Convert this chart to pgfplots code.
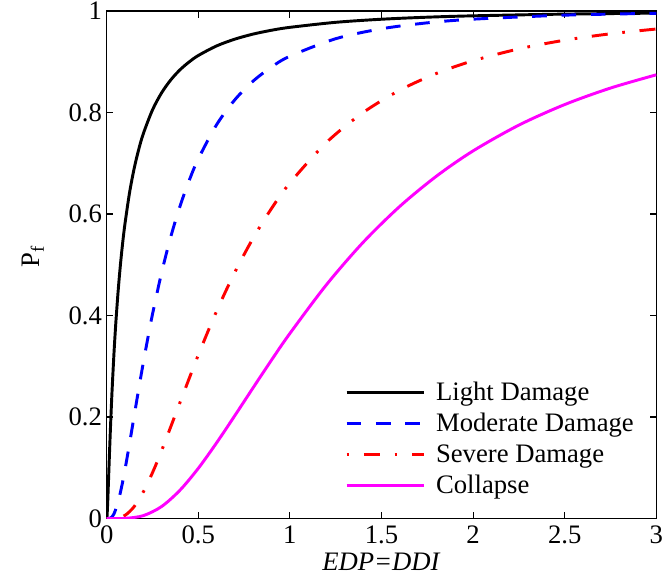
\documentclass[border=0pt]{standalone}
\usepackage{fontspec}
\setmainfont{Liberation Serif}
\usepackage{pgfplots}
\pgfplotsset{compat=1.18}

\definecolor{matmagenta}{rgb}{1,0,1}
\definecolor{matblue}{rgb}{0,0,1}
\definecolor{matred}{rgb}{1,0,0}
\newcommand{\figfont}{\fontsize{20}{24}\selectfont}

\begin{document}
\begin{tikzpicture}
\useasboundingbox (-80pt,-51.4pt) rectangle (417.2pt,388.85pt);
\begin{axis}[
  at={(0pt,0pt)}, anchor=south west,
  scale only axis, width=412.2pt, height=380.6pt,
  xmin=0, xmax=3, ymin=0, ymax=1,
  xtick={0,0.5,1,1.5,2,2.5,3},
  ytick={0,0.2,0.4,0.6,0.8,1},
  tick align=inside, tick pos=both,
  major tick length=5pt,
  tick style={black, line width=0.8pt},
  axis line style={line width=1pt},
  /pgf/number format/assume math mode=true,
  tick label style={font=\figfont},
  xticklabel style={yshift=-2pt},
  label style={font=\figfont},
  xlabel={\textit{EDP=DDI}},
  ylabel={P\textsubscript{f}},
  ylabel style={at={(axis description cs:-0.134,0.516)}, anchor=center},
  legend style={draw=none, fill=none, font=\figfont, inner sep=0pt,
    row sep=4.2pt,
    /tikz/every odd column/.append style={column sep=6pt},
    at={(axis cs:1.30,0.275)}, anchor=north west},
  legend cell align=left,
  legend image code/.code={\draw[#1] (0pt,0pt) -- (58pt,0pt);},
]
% Light damage
\addplot[black, line width=2.2pt, smooth] coordinates {
(0,0) (0.001,0.001) (0.002,0.0048) (0.005,0.0266) (0.0075,0.0500)
(0.01,0.0751) (0.015,0.1251) (0.02,0.1726) (0.025,0.2162) (0.03,0.2563)
(0.04,0.3267) (0.05,0.3859) (0.0625,0.4479) (0.075,0.5) (0.0875,0.5438)
(0.1,0.5812) (0.125,0.6424) (0.15,0.6897) (0.175,0.7274) (0.2,0.7583)
(0.25,0.8051) (0.3,0.8389) (0.35,0.8643) (0.4,0.8841) (0.45,0.8996)
(0.5,0.9123) (0.6,0.9312) (0.7,0.9446) (0.8,0.9546) (0.9,0.9621)
(1.0,0.9678) (1.25,0.9777) (1.5,0.9838) (1.75,0.9878) (2.0,0.9905)
(2.5,0.9939) (3.0,0.9958)
};
\addlegendentry{Light Damage}
% Moderate damage
\addplot[matblue, line width=2.2pt, smooth, dash pattern=on 11pt off 11pt] coordinates {
(0,0) (0.02,0.0008) (0.03,0.0036) (0.04,0.0093) (0.06,0.0296)
(0.08,0.0597) (0.1,0.0966) (0.125,0.1483) (0.15,0.2021) (0.175,0.2556)
(0.2,0.3073) (0.225,0.3561) (0.25,0.4025) (0.3,0.4848) (0.35,0.5553)
(0.4,0.6152) (0.45,0.6657) (0.5,0.7086) (0.6,0.7760) (0.7,0.8253)
(0.8,0.8621) (0.9,0.8897) (1.0,0.9109) (1.25,0.9454) (1.5,0.9650)
(1.75,0.9767) (2.0,0.9839) (2.5,0.9918) (3.0,0.9955)
};
\addlegendentry{Moderate Damage}
% Severe damage
\addplot[matred, line width=2.2pt, smooth, dash pattern=on 2pt off 11pt on 12pt off 11pt] coordinates {
(0,0) (0.05,0.0004) (0.1,0.0062) (0.15,0.0235) (0.2,0.0525)
(0.25,0.0903) (0.3,0.1339) (0.4,0.2285) (0.5,0.3221) (0.6,0.4087)
(0.7,0.4856) (0.8,0.5529) (0.9,0.6111) (1.0,0.6612) (1.2,0.7411)
(1.4,0.8000) (1.6,0.8440) (1.8,0.8770) (2.0,0.9020) (2.25,0.9254)
(2.5,0.9425) (2.75,0.9551) (3.0,0.9645)
};
\addlegendentry{Severe Damage}
% Collapse
\addplot[matmagenta, line width=2.2pt, smooth] coordinates {
(0,0) (0.1,0.0003) (0.2,0.0057) (0.3,0.0237) (0.4,0.0558)
(0.5,0.0989) (0.6,0.1492) (0.7,0.2031) (0.8,0.2581) (0.9,0.3124)
(1.0,0.3647) (1.2,0.4609) (1.4,0.5443) (1.6,0.6151) (1.8,0.6746)
(2.0,0.7244) (2.25,0.7752) (2.5,0.8157) (2.75,0.8482) (3.0,0.8743)
};
\addlegendentry{Collapse}
\end{axis}
\end{tikzpicture}
\end{document}
